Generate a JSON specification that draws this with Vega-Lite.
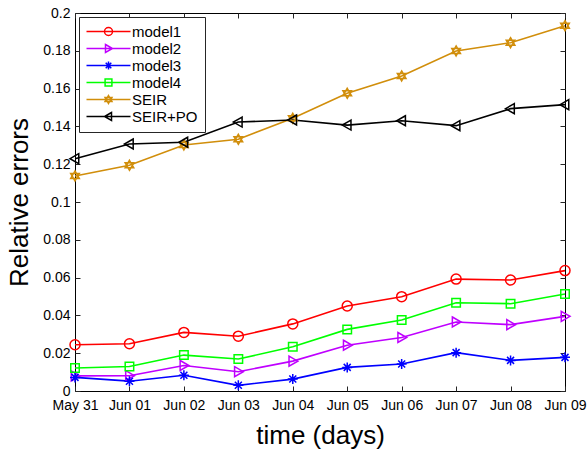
{
  "$schema": "https://vega.github.io/schema/vega-lite/v6.json",
  "width": 490,
  "height": 378,
  "autosize": {"type": "none"},
  "padding": {"left": 75, "top": 13, "right": 22, "bottom": 62},
  "config": {
    "font": "Liberation Sans",
    "view": {"stroke": "black", "strokeWidth": 1},
    "point": {"opacity": 1},
    "axis": {
      "grid": false,
      "domain": false,
      "tickColor": "#262626",
      "tickSize": -5,
      "labelColor": "black",
      "labelFont": "Liberation Sans",
      "labelFontSize": 14,
      "titleColor": "black",
      "titleFont": "Liberation Sans",
      "titleFontSize": 26,
      "titleFontWeight": "normal"
    },
    "legend": {
      "strokeColor": "#262626",
      "fillColor": "white",
      "padding": 7,
      "labelFont": "Liberation Sans",
      "labelFontSize": 15,
      "labelColor": "black",
      "symbolOpacity": 1,
      "symbolStrokeWidth": 1.5,
      "symbolSize": 64
    }
  },
  "data": {
    "values": [
      {"date": "May 31", "series": "model1", "value": 0.0245},
      {"date": "Jun 01", "series": "model1", "value": 0.025},
      {"date": "Jun 02", "series": "model1", "value": 0.031},
      {"date": "Jun 03", "series": "model1", "value": 0.029},
      {"date": "Jun 04", "series": "model1", "value": 0.0355},
      {"date": "Jun 05", "series": "model1", "value": 0.045},
      {"date": "Jun 06", "series": "model1", "value": 0.0499},
      {"date": "Jun 07", "series": "model1", "value": 0.0592},
      {"date": "Jun 08", "series": "model1", "value": 0.0587},
      {"date": "Jun 09", "series": "model1", "value": 0.0637},
      {"date": "May 31", "series": "model2", "value": 0.008},
      {"date": "Jun 01", "series": "model2", "value": 0.0081},
      {"date": "Jun 02", "series": "model2", "value": 0.0135},
      {"date": "Jun 03", "series": "model2", "value": 0.0102},
      {"date": "Jun 04", "series": "model2", "value": 0.0158},
      {"date": "Jun 05", "series": "model2", "value": 0.0242},
      {"date": "Jun 06", "series": "model2", "value": 0.0283},
      {"date": "Jun 07", "series": "model2", "value": 0.0365},
      {"date": "Jun 08", "series": "model2", "value": 0.0351},
      {"date": "Jun 09", "series": "model2", "value": 0.0395},
      {"date": "May 31", "series": "model3", "value": 0.0072},
      {"date": "Jun 01", "series": "model3", "value": 0.0052},
      {"date": "Jun 02", "series": "model3", "value": 0.0083},
      {"date": "Jun 03", "series": "model3", "value": 0.003},
      {"date": "Jun 04", "series": "model3", "value": 0.0063},
      {"date": "Jun 05", "series": "model3", "value": 0.0125},
      {"date": "Jun 06", "series": "model3", "value": 0.0143},
      {"date": "Jun 07", "series": "model3", "value": 0.0203},
      {"date": "Jun 08", "series": "model3", "value": 0.0162},
      {"date": "Jun 09", "series": "model3", "value": 0.0178},
      {"date": "May 31", "series": "model4", "value": 0.0122},
      {"date": "Jun 01", "series": "model4", "value": 0.013},
      {"date": "Jun 02", "series": "model4", "value": 0.019},
      {"date": "Jun 03", "series": "model4", "value": 0.0169},
      {"date": "Jun 04", "series": "model4", "value": 0.0234},
      {"date": "Jun 05", "series": "model4", "value": 0.0326},
      {"date": "Jun 06", "series": "model4", "value": 0.0376},
      {"date": "Jun 07", "series": "model4", "value": 0.0467},
      {"date": "Jun 08", "series": "model4", "value": 0.0462},
      {"date": "Jun 09", "series": "model4", "value": 0.0513},
      {"date": "May 31", "series": "SEIR", "value": 0.1138},
      {"date": "Jun 01", "series": "SEIR", "value": 0.1194},
      {"date": "Jun 02", "series": "SEIR", "value": 0.1302},
      {"date": "Jun 03", "series": "SEIR", "value": 0.1332},
      {"date": "Jun 04", "series": "SEIR", "value": 0.1443},
      {"date": "Jun 05", "series": "SEIR", "value": 0.1575},
      {"date": "Jun 06", "series": "SEIR", "value": 0.1667},
      {"date": "Jun 07", "series": "SEIR", "value": 0.1799},
      {"date": "Jun 08", "series": "SEIR", "value": 0.1843},
      {"date": "Jun 09", "series": "SEIR", "value": 0.1933},
      {"date": "May 31", "series": "SEIR+PO", "value": 0.1229},
      {"date": "Jun 01", "series": "SEIR+PO", "value": 0.1307},
      {"date": "Jun 02", "series": "SEIR+PO", "value": 0.1316},
      {"date": "Jun 03", "series": "SEIR+PO", "value": 0.1423},
      {"date": "Jun 04", "series": "SEIR+PO", "value": 0.1434},
      {"date": "Jun 05", "series": "SEIR+PO", "value": 0.1407},
      {"date": "Jun 06", "series": "SEIR+PO", "value": 0.143},
      {"date": "Jun 07", "series": "SEIR+PO", "value": 0.1404},
      {"date": "Jun 08", "series": "SEIR+PO", "value": 0.1494},
      {"date": "Jun 09", "series": "SEIR+PO", "value": 0.1515}
    ]
  },
  "encoding": {
    "x": {
      "field": "date",
      "type": "ordinal",
      "sort": ["May 31", "Jun 01", "Jun 02", "Jun 03", "Jun 04", "Jun 05", "Jun 06", "Jun 07", "Jun 08", "Jun 09"],
      "scale": {"type": "point", "padding": 0},
      "axis": null
    },
    "y": {
      "field": "value",
      "type": "quantitative",
      "scale": {"domain": [0, 0.2], "nice": false, "zero": true},
      "axis": null
    },
    "color": {
      "field": "series",
      "type": "nominal",
      "scale": {
        "domain": ["model1", "model2", "model3", "model4", "SEIR", "SEIR+PO"],
        "range": ["#FF0000", "#BF00FF", "#0000FF", "#00FF00", "#D18E0B", "#000000"]
      },
      "legend": {
        "title": null,
        "orient": "top-left",
        "offset": 4,
        "symbolOffset": 15,
        "labelOffset": 16,
        "rowPadding": 1,
        "symbolOpacity": 1,
        "symbolSize": 64,
        "symbolStrokeWidth": 1.5
      }
    }
  },
  "layer": [
    {
      "mark": {"type": "line", "strokeWidth": 1.6},
      "encoding": {
        "x": {
          "field": "date", "type": "ordinal",
          "sort": ["May 31", "Jun 01", "Jun 02", "Jun 03", "Jun 04", "Jun 05", "Jun 06", "Jun 07", "Jun 08", "Jun 09"],
          "axis": {"orient": "bottom", "title": "time (days)", "labelAngle": 0, "labelPadding": 12, "titlePadding": 10}
        },
        "y": {
          "field": "value", "type": "quantitative",
          "axis": {"orient": "left", "title": "Relative errors", "values": [0, 0.02, 0.04, 0.06, 0.08, 0.1, 0.12, 0.14, 0.16, 0.18, 0.2], "format": "~g", "labelPadding": 10, "titlePadding": 10}
        }
      }
    },
    {
      "transform": [{"filter": "datum.series === 'model1'"}],
      "mark": {"type": "point", "filled": false, "opacity": 1, "strokeWidth": 1.5, "size": 100, "shape": "circle"}
    },
    {
      "transform": [{"filter": "datum.series === 'model2'"}],
      "mark": {"type": "point", "filled": false, "opacity": 1, "strokeWidth": 1.5, "size": 100, "shape": "M-0.75,-1L1,0L-0.75,1Z"}
    },
    {
      "transform": [{"filter": "datum.series === 'model3'"}],
      "mark": {"type": "point", "filled": false, "opacity": 1, "strokeWidth": 1.5, "size": 100, "shape": "M0,-1L0,1M-1,0L1,0M-0.7,-0.7L0.7,0.7M-0.7,0.7L0.7,-0.7"}
    },
    {
      "transform": [{"filter": "datum.series === 'model4'"}],
      "mark": {"type": "point", "filled": false, "opacity": 1, "strokeWidth": 1.5, "size": 100, "shape": "M-0.85,-0.85L0.85,-0.85L0.85,0.85L-0.85,0.85Z"}
    },
    {
      "transform": [{"filter": "datum.series === 'SEIR'"}],
      "mark": {"type": "point", "filled": false, "opacity": 1, "strokeWidth": 1.5, "size": 100, "shape": "M0,-1L0.866,0.5L-0.866,0.5ZM0,1L0.866,-0.5L-0.866,-0.5Z"}
    },
    {
      "transform": [{"filter": "datum.series === 'SEIR+PO'"}],
      "mark": {"type": "point", "filled": false, "opacity": 1, "strokeWidth": 1.5, "size": 100, "shape": "M0.75,-1L-1,0L0.75,1Z"}
    },
    {
      "mark": {"type": "point", "filled": false, "strokeWidth": 1.5, "size": 64, "opacity": 0},
      "encoding": {
        "shape": {
          "field": "series", "type": "nominal",
          "scale": {
            "domain": ["model1", "model2", "model3", "model4", "SEIR", "SEIR+PO"],
            "range": [
              "M-5.5,0L5.5,0M1,0A1,1,0,1,1,-1,0A1,1,0,1,1,1,0Z",
              "M-5.5,0L5.5,0M-0.75,-1L1,0L-0.75,1Z",
              "M-5.5,0L5.5,0M0,-1L0,1M-0.7,-0.7L0.7,0.7M-0.7,0.7L0.7,-0.7",
              "M-5.5,0L5.5,0M-0.85,-0.85L0.85,-0.85L0.85,0.85L-0.85,0.85Z",
              "M-5.5,0L5.5,0M0,-1L0.866,0.5L-0.866,0.5ZM0,1L0.866,-0.5L-0.866,-0.5Z",
              "M-5.5,0L5.5,0M0.75,-1L-1,0L0.75,1Z"
            ]
          },
          "legend": {
            "title": null,
            "orient": "top-left",
            "offset": 4,
            "symbolOffset": 15,
            "labelOffset": 16,
            "rowPadding": 1,
            "symbolOpacity": 1,
            "symbolSize": 64,
            "symbolStrokeWidth": 1.5
          }
        }
      }
    },
    {
      "mark": {"type": "point", "opacity": 0},
      "encoding": {
        "x": {
          "field": "date", "type": "ordinal",
          "sort": ["May 31", "Jun 01", "Jun 02", "Jun 03", "Jun 04", "Jun 05", "Jun 06", "Jun 07", "Jun 08", "Jun 09"],
          "axis": {"orient": "top", "labels": false, "title": null}
        },
        "y": {
          "field": "value", "type": "quantitative",
          "axis": {"orient": "right", "labels": false, "title": null, "values": [0, 0.02, 0.04, 0.06, 0.08, 0.1, 0.12, 0.14, 0.16, 0.18, 0.2]}
        }
      }
    }
  ],
  "resolve": {
    "axis": {"x": "independent", "y": "independent"}
  }
}
